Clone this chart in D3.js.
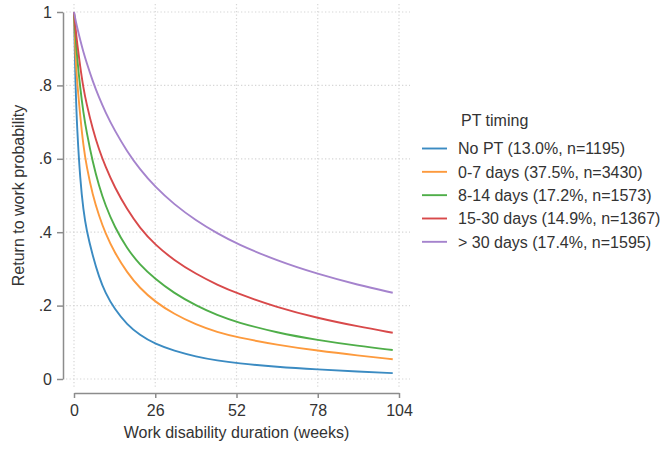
<!DOCTYPE html>
<html>
<head>
<meta charset="utf-8">
<script src="https://cdn.jsdelivr.net/npm/d3@7"></script>
<style>
  html, body { margin: 0; padding: 0; background: #fff; }
  svg { display: block; font-family: "Liberation Sans", Arial, sans-serif; }
</style>
</head>
<body>
<svg id="chart" width="669" height="450"></svg>
<script>
// ---- data ----
const weeks = [0, 0.5, 1, 2, 3, 4, 6, 8, 10, 13, 17, 21, 26, 32, 39, 46, 52, 65, 78, 91, 102];
const noPT      = [1, 0.79, 0.68, 0.54, 0.46, 0.405, 0.335, 0.278, 0.235, 0.19, 0.148, 0.12, 0.095, 0.077, 0.061, 0.05, 0.043, 0.033, 0.026, 0.02, 0.016];
const days0to7  = [1, 0.87, 0.81, 0.715, 0.635, 0.58, 0.5, 0.445, 0.398, 0.344, 0.29, 0.248, 0.21, 0.177, 0.148, 0.127, 0.114, 0.093, 0.077, 0.064, 0.054];
const days8to14 = [1, 0.931, 0.876, 0.791, 0.726, 0.674, 0.59, 0.526, 0.474, 0.414, 0.355, 0.312, 0.272, 0.234, 0.2, 0.173, 0.155, 0.126, 0.106, 0.09, 0.079];
const days15to30= [1, 0.955, 0.915, 0.85, 0.793, 0.75, 0.68, 0.625, 0.58, 0.522, 0.462, 0.412, 0.365, 0.324, 0.286, 0.256, 0.234, 0.195, 0.166, 0.143, 0.126];
const daysOver30= [1, 0.978, 0.958, 0.923, 0.891, 0.863, 0.811, 0.767, 0.728, 0.677, 0.62, 0.572, 0.523, 0.476, 0.432, 0.396, 0.369, 0.322, 0.286, 0.256, 0.235];
const seriesLabels = ["No PT (13.0%, n=1195)", "0-7 days (37.5%, n=3430)", "8-14 days (17.2%, n=1573)", "15-30 days (14.9%, n=1367)", "> 30 days (17.4%, n=1595)"];
const seriesValues = [noPT, days0to7, days8to14, days15to30, daysOver30];
const seriesColors = ["#3b8bc2", "#fd9a3d", "#4fae49", "#d8494a", "#a583cd"];
const xTicks = [0, 26, 52, 78, 104];
const yTicks = [0, 0.2, 0.4, 0.6, 0.8, 1];
const yTickLabels = ["0", ".2", ".4", ".6", ".8", "1"];
const legendTitle = "PT timing";
const xTitle = "Work disability duration (weeks)";
const yTitle = "Return to work probability";

// ---- layout ----
const svg = d3.select("#chart");
const x = d3.scaleLinear().domain([0, 104]).range([74, 399]);
const y = d3.scaleLinear().domain([0, 1]).range([379, 12]);
const textColor = "#333";
const axisColor = "#8c8c8c";

// grid
const grid = svg.append("g");
grid.selectAll("line.h").data(yTicks).enter().append("line")
  .attr("x1", 66).attr("x2", 410)
  .attr("y1", d => y(d)).attr("y2", d => y(d))
  .attr("stroke", "#d6d6d6").attr("stroke-width", 1.2)
  .attr("stroke-dasharray", "1.3,2.2");
grid.selectAll("line.v").data(xTicks).enter().append("line")
  .attr("y1", 4).attr("y2", 387)
  .attr("x1", d => x(d)).attr("x2", d => x(d))
  .attr("stroke", "#d6d6d6").attr("stroke-width", 1.2)
  .attr("stroke-dasharray", "1.3,2.2");

// y axis
const yAxis = d3.axisLeft(y).tickValues(yTicks).tickFormat((d, i) => yTickLabels[i])
  .tickSizeInner(6).tickSizeOuter(0).tickPadding(5);
const gy = svg.append("g").attr("transform", "translate(63,0)").call(yAxis);
gy.select(".domain").attr("stroke", axisColor).attr("stroke-width", 1.5);
gy.selectAll(".tick line").attr("stroke", axisColor).attr("stroke-width", 1.5);
gy.selectAll(".tick text").attr("font-size", 16).attr("fill", textColor)
  .attr("font-family", "Liberation Sans, Arial, sans-serif");

// x axis
const xAxis = d3.axisBottom(x).tickValues(xTicks).tickFormat(d3.format("d"))
  .tickSizeInner(5).tickSizeOuter(0).tickPadding(7);
const gx = svg.append("g").attr("transform", "translate(0,393)").call(xAxis);
gx.select(".domain").attr("stroke", axisColor).attr("stroke-width", 1.5);
gx.selectAll(".tick line").attr("stroke", axisColor).attr("stroke-width", 1.5);
gx.selectAll(".tick text").attr("font-size", 16).attr("fill", textColor)
  .attr("font-family", "Liberation Sans, Arial, sans-serif");

// axis titles
svg.append("text").attr("x", 236.5).attr("y", 438).attr("text-anchor", "middle")
  .attr("font-size", 16).attr("fill", textColor).text(xTitle);
svg.append("text").attr("transform", "translate(24,195.5) rotate(-90)")
  .attr("text-anchor", "middle").attr("font-size", 16).attr("fill", textColor).text(yTitle);

// lines
const line = d3.line().x((d, i) => x(weeks[i])).y(d => y(d)).curve(d3.curveBasis);
svg.append("g").selectAll("path").data(seriesValues).enter().append("path")
  .attr("d", d => line(d))
  .attr("fill", "none")
  .attr("stroke", (d, i) => seriesColors[i])
  .attr("stroke-width", 1.9)
  .attr("stroke-linejoin", "round");

// legend
const lg = svg.append("g");
lg.append("text").attr("x", 461).attr("y", 125.5).attr("font-size", 16).attr("fill", textColor).text(legendTitle);
const items = lg.selectAll("g.item").data(seriesLabels).enter().append("g")
  .attr("transform", (d, i) => `translate(0,${148.5 + i * 23.33})`);
items.append("line").attr("x1", 422).attr("x2", 447).attr("y1", 0).attr("y2", 0)
  .attr("stroke", (d, i) => seriesColors[i]).attr("stroke-width", 1.9);
items.append("text").attr("x", 458).attr("y", 5.7).attr("font-size", 16).attr("fill", textColor).text(d => d);
</script>
</body>
</html>
